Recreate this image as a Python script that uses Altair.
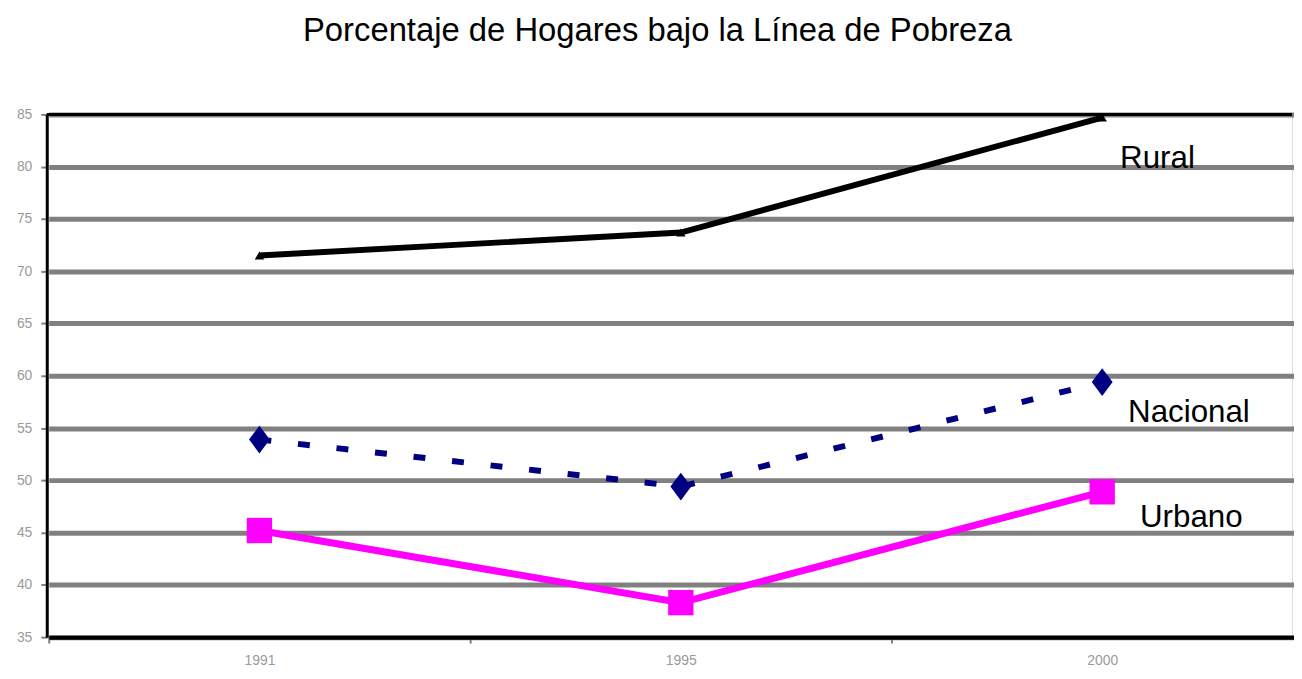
import altair as alt
import pandas as pd

years = ["1991", "1995", "2000"]
rural = [71.5, 73.7, 84.7]
nacional = [53.9, 49.4, 59.4]
urbano = [45.2, 38.3, 48.9]
series_names = ["Rural", "Nacional", "Urbano"]
y_ticks = [35, 40, 45, 50, 55, 60, 65, 70, 75, 80, 85]

rows = []
for name, vals in zip(series_names, [rural, nacional, urbano]):
    for yr, v in zip(years, vals):
        rows.append({"Año": yr, "Serie": name, "Valor": v})
df = pd.DataFrame(rows)

x_scale = alt.Scale(type="band", paddingInner=0, paddingOuter=0, range=[2, 1274])
x_enc = alt.X("Año:N", sort=years, scale=x_scale,
              axis=alt.Axis(title=None, labelAngle=0, tickBand="extent",
                            labelFont="Liberation Sans", labelFontSize=14,
                            labelColor="#9a9a9a", tickColor="#808080", tickSize=6,
                            tickWidth=2, labelPadding=11,
                            domainColor="#000000", domainWidth=4, grid=False))
y_enc = alt.Y("Valor:Q", scale=alt.Scale(domain=[35, 85], nice=False, zero=False),
              axis=alt.Axis(title=None, values=y_ticks, labelFont="Liberation Sans",
                            labelFontSize=14, labelColor="#9a9a9a",
                            tickColor="#808080", tickSize=6, tickWidth=2,
                            labelPadding=9,
                            domainColor="#000000", domainWidth=3,
                            gridColor="#808080", gridWidth=5, gridOpacity=1))

base = alt.Chart(df)
xs = alt.X("Año:N", sort=years, scale=x_scale)

top_line = alt.Chart(pd.DataFrame({"v": [85]})).mark_rule(
    color="#000000", strokeWidth=3).encode(y=alt.Y("v:Q"))

def sel(name):
    return alt.datum.Serie == name

rural_line = base.transform_filter(sel("Rural")).mark_line(
    color="#000000", strokeWidth=6).encode(x=x_enc, y=y_enc)
rural_pts = base.transform_filter(sel("Rural")).mark_point(
    shape="triangle-up", filled=True, color="#000000", size=90, opacity=1
).encode(x=xs, y="Valor:Q")

nac_line = base.transform_filter(sel("Nacional")).mark_line(
    color="#000080", strokeWidth=6, strokeDash=[12, 27]).encode(x=xs, y="Valor:Q")
nac_pts = base.transform_filter(sel("Nacional")).mark_point(
    shape="M0,-1L0.75,0L0,1L-0.75,0Z", filled=True, color="#000080",
    size=780, opacity=1).encode(x=xs, y="Valor:Q")

urb_line = base.transform_filter(sel("Urbano")).mark_line(
    color="#FF00FF", strokeWidth=7).encode(x=xs, y="Valor:Q")
urb_pts = base.transform_filter(sel("Urbano")).mark_point(
    shape="square", filled=True, color="#FF00FF", size=650, opacity=1
).encode(x=xs, y="Valor:Q")

last = base.transform_filter(alt.datum["Año"] == "2000")

def label(name, dx, dy):
    return last.transform_filter(sel(name)).mark_text(
        align="left", baseline="middle", dx=dx, dy=dy,
        font="Liberation Sans", fontSize=31.5, color="#000000"
    ).encode(x=xs, y="Valor:Q", text="Serie:N")

chart = alt.layer(
    rural_line, top_line, rural_pts, nac_line, nac_pts, urb_line, urb_pts,
    label("Rural", 18, 42), label("Nacional", 26, 31), label("Urbano", 38, 26)
).properties(
    width=1253, height=526,
    padding={"left": 39, "top": 105, "right": 2, "bottom": 31},
    autosize=alt.AutoSizeParams(type="none"),
    title=alt.TitleParams("Porcentaje de Hogares bajo la Línea de Pobreza",
                          font="Liberation Sans", fontSize=33, fontWeight="normal",
                          color="#000000", anchor="middle", dx=-12, offset=58)
).configure_view(stroke=None).configure(background="white")

chart.save("out.html", embed_options={"renderer": "svg", "actions": False})
